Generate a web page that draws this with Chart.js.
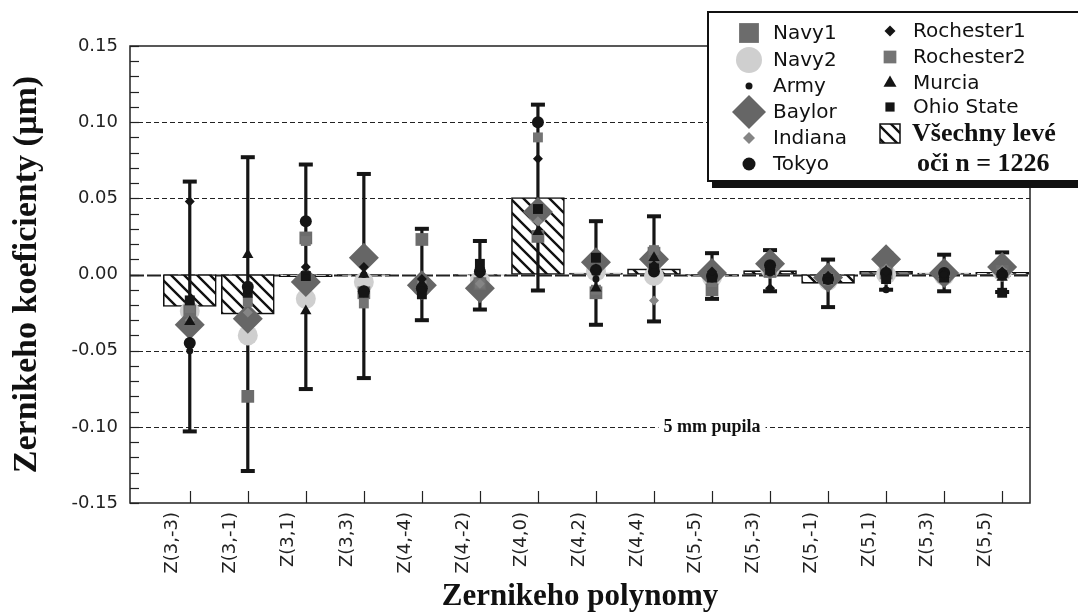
<!DOCTYPE html>
<html>
<head>
<meta charset="utf-8">
<script src="https://cdn.jsdelivr.net/npm/chart.js@4.4.1/dist/chart.umd.min.js"></script>
<style>
  html, body { margin: 0; padding: 0; background: #fff; }
  #wrap { width: 1078px; height: 612px; position: relative; }
</style>
</head>
<body>
<div id="wrap"><canvas id="chart" width="1078" height="612"></canvas></div>
<script>
const categories = ['Z(3,-3)','Z(3,-1)','Z(3,1)','Z(3,3)','Z(4,-4)','Z(4,-2)','Z(4,0)','Z(4,2)','Z(4,4)','Z(5,-5)','Z(5,-3)','Z(5,-1)','Z(5,1)','Z(5,3)','Z(5,5)'];

// all left eyes (n = 1226): mean and standard deviation
const allEyesMean = [-0.021, -0.026, -0.0015, -0.001, 0.000, -0.0005, 0.0505, 0.001, 0.0037, -0.001, 0.0025, -0.0058, 0.002, 0.001, 0.0015];
const allEyesSD   = [0.082, 0.103, 0.0737, 0.067, 0.030, 0.0225, 0.061, 0.034, 0.0345, 0.015, 0.0135, 0.0156, 0.012, 0.012, 0.013];

// individual studies
const navy1      = [-0.024, -0.080, 0.024, -0.012, 0.023, -0.006, 0.025, -0.012, 0.014, -0.010, 0.002, -0.003, 0.001, -0.001, 0.002];
const navy2      = [-0.024, -0.040, -0.016, -0.005, -0.008, -0.004, 0.040, 0.002, -0.001, -0.002, 0.004, -0.004, 0.000, -0.001, 0.002];
const army       = [-0.050, -0.010, -0.002, 0.000, -0.010, 0.000, 0.043, -0.003, 0.002, -0.003, 0.001, -0.004, -0.010, 0.000, 0.000];
const baylor     = [-0.033, -0.029, -0.005, 0.011, -0.007, -0.009, 0.041, 0.008, 0.010, 0.001, 0.007, -0.002, 0.010, 0.001, 0.005];
const indiana    = [-0.030, -0.025, 0.000, -0.010, -0.005, -0.006, 0.035, 0.000, -0.017, -0.002, 0.003, -0.004, 0.004, 0.000, 0.003];
const tokyo      = [-0.045, -0.008, 0.035, -0.011, -0.009, 0.002, 0.100, 0.003, 0.002, -0.001, 0.006, -0.003, 0.001, 0.001, 0.000];
const rochester1 = [0.048, -0.010, 0.005, 0.005, -0.003, 0.004, 0.076, 0.004, 0.006, 0.002, -0.009, -0.001, 0.002, 0.000, 0.002];
const rochester2 = [-0.022, -0.018, 0.022, -0.019, -0.008, -0.006, 0.090, -0.010, 0.016, -0.005, 0.002, -0.004, 0.002, 0.000, 0.001];
const murcia     = [-0.031, 0.013, -0.024, 0.000, -0.006, 0.002, 0.028, -0.009, 0.011, -0.001, 0.005, -0.002, 0.002, 0.000, -0.002];
const ohioState  = [-0.017, -0.012, -0.001, -0.012, -0.013, 0.007, 0.043, 0.011, 0.004, -0.002, 0.003, -0.003, -0.003, -0.002, -0.012];

const yTicks = [-0.15, -0.10, -0.05, 0.00, 0.05, 0.10, 0.15];
const refLines = [-0.10, -0.05, 0.00, 0.05, 0.10];
const minorStep = 0.01;

const GRAY = '#6c6c6c', LIGHT = '#cfcfcf', BLACK = '#151515';

// diagonal hatch used for the all-eyes bars
function hatch() {
  const s = 13, c = document.createElement('canvas');
  c.width = s; c.height = s;
  const g = c.getContext('2d');
  g.fillStyle = '#fff'; g.fillRect(0, 0, s, s);
  g.strokeStyle = '#111'; g.lineWidth = 2.4;
  g.beginPath();
  g.moveTo(-1, -1); g.lineTo(s + 1, s + 1);
  g.moveTo(s - 3, -3); g.lineTo(s + 3, 3);
  g.moveTo(-3, s - 3); g.lineTo(3, s + 3);
  g.stroke();
  return document.getElementById('chart').getContext('2d').createPattern(c, 'repeat');
}
const hatchFill = hatch();

const pts = arr => arr.map((v, i) => ({x: i, y: v}));

// [label, data, style, radius, color, legendRadius, draw order]
const studies = [
  ['Army',        army,       'circle',   3.5, BLACK, 3.5, 0],
  ['Rochester1',  rochester1, 'rectRot',  5,   BLACK, 5.5, 1],
  ['Murcia',      murcia,     'triangle', 6.5, BLACK, 7.5, 2],
  ['Ohio State',  ohioState,  'rect',     7,   BLACK, 6.5, 3],
  ['Tokyo',       tokyo,      'circle',   6,   BLACK, 6.5, 4],
  ['Indiana',     indiana,    'rectRot',  5,   '#858585', 6, 5],
  ['Rochester2',  rochester2, 'rect',     7,   '#747474', 9, 6],
  ['Navy1',       navy1,      'rect',     9,   GRAY, 14, 7],
  ['Baylor',      baylor,     'rectRot',  15,  '#666666', 17, 8],
  ['Navy2',       navy2,      'circle',   10,  LIGHT, 13, 9]
];

const datasets = studies.map(s => ({
  type: 'scatter', label: s[0], data: pts(s[1]),
  pointStyle: s[2], pointRadius: s[3], pointBackgroundColor: s[4],
  pointBorderWidth: 0, order: s[6]
}));
datasets.push({
  type: 'bar', label: 'Všechny levé oči n = 1226', data: pts(allEyesMean),
  backgroundColor: hatchFill, borderColor: '#111', borderWidth: 1.6,
  borderSkipped: false, barThickness: 53, order: 20
});

const frame = {
  id: 'frame',
  beforeDatasetsDraw(chart) {
    const {ctx, chartArea: a, scales: {x, y}} = chart;
    ctx.save();
    ctx.strokeStyle = '#222';
    refLines.forEach(v => {
      const py = Math.round(y.getPixelForValue(v)) + 0.5;
      ctx.lineWidth = v === 0 ? 1.8 : 1;
      ctx.setLineDash(v === 0 ? [14, 3] : [5, 3]);
      ctx.beginPath(); ctx.moveTo(a.left, py); ctx.lineTo(a.right, py); ctx.stroke();
    });
    ctx.setLineDash([]);
    ctx.lineWidth = 1.2;
    for (let v = -0.15; v <= 0.1501; v += minorStep) {
      const py = Math.round(y.getPixelForValue(v)) + 0.5;
      ctx.beginPath(); ctx.moveTo(a.left, py); ctx.lineTo(a.left + 9, py); ctx.stroke();
    }
    categories.forEach((c, i) => {
      const px = Math.round(x.getPixelForValue(i)) + 0.5;
      ctx.beginPath(); ctx.moveTo(px, a.bottom); ctx.lineTo(px, a.bottom - 12); ctx.stroke();
    });
    ctx.lineWidth = 1.5;
    ctx.strokeRect(a.left, a.top, a.right - a.left, a.bottom - a.top);
    ctx.restore();
  }
};

// mean ± SD whiskers, drawn right after the bars so the study markers sit on top
const errorBars = {
  id: 'errorBars',
  afterDatasetDraw(chart, args) {
    if (chart.data.datasets[args.index].type !== 'bar') return;
    const {ctx, scales: {x, y}} = chart;
    ctx.save();
    ctx.strokeStyle = BLACK; ctx.fillStyle = BLACK;
    allEyesMean.forEach((m, i) => {
      const px = x.getPixelForValue(i);
      const top = y.getPixelForValue(m + allEyesSD[i]);
      const bot = y.getPixelForValue(m - allEyesSD[i]);
      ctx.lineWidth = 3.2;
      ctx.beginPath(); ctx.moveTo(px, top); ctx.lineTo(px, bot); ctx.stroke();
      ctx.fillRect(px - 7, top - 2, 14, 4);
      ctx.fillRect(px - 7, bot - 2, 14, 4);
    });
    ctx.restore();
  }
};

const pupilNote = {
  id: 'pupilNote',
  afterDatasetsDraw(chart) {
    const {ctx, scales: {x, y}} = chart;
    const px = x.getPixelForValue(9), py = y.getPixelForValue(-0.10);
    ctx.save();
    ctx.font = 'bold 18px "Liberation Serif"';
    const w = ctx.measureText('5 mm pupila').width;
    ctx.fillStyle = '#fff';
    ctx.fillRect(px - w / 2 - 5, py - 9, w + 10, 18);
    ctx.fillStyle = '#111';
    ctx.textAlign = 'center'; ctx.textBaseline = 'middle';
    ctx.fillText('5 mm pupila', px, py + 1);
    ctx.restore();
  }
};

const legendBox = {
  id: 'legendBox',
  afterDraw(chart) {
    const ctx = chart.ctx;
    const byName = Object.fromEntries(studies.map(s => [s[0], s]));
    ctx.save();
    ctx.fillStyle = '#111';
    ctx.fillRect(712, 17, 400, 171);
    ctx.fillStyle = '#fff';
    ctx.fillRect(708, 12, 400, 169);
    ctx.strokeStyle = '#111'; ctx.lineWidth = 2;
    ctx.strokeRect(708, 12, 400, 169);

    const col1 = ['Navy1', 'Navy2', 'Army', 'Baylor', 'Indiana', 'Tokyo'];
    const rows1 = [33, 60, 86, 112, 138, 164];
    const col2 = ['Rochester1', 'Rochester2', 'Murcia', 'Ohio State'];
    const rows2 = [31, 57, 83, 107];
    const mark = (name, mx, my) => {
      const s = byName[name];
      ctx.fillStyle = s[4];
      Chart.helpers.drawPoint(ctx, {pointStyle: s[2], radius: s[5], rotation: 0, borderWidth: 0}, mx, my);
    };
    ctx.font = '20px "DejaVu Sans"';
    ctx.textBaseline = 'middle';
    col1.forEach((n, k) => {
      mark(n, 749, rows1[k]);
      ctx.fillStyle = '#111'; ctx.fillText(n, 773, rows1[k] + 1);
    });
    col2.forEach((n, k) => {
      mark(n, 890, rows2[k]);
      ctx.fillStyle = '#111'; ctx.fillText(n, 913, rows2[k] + 1);
    });
    ctx.fillStyle = hatchFill;
    ctx.fillRect(880, 124, 20, 19);
    ctx.lineWidth = 1.5; ctx.strokeRect(880, 124, 20, 19);
    ctx.fillStyle = '#111';
    ctx.font = 'bold 26px "Liberation Serif"';
    ctx.fillText('Všechny levé', 912, 134);
    ctx.fillText('oči n = 1226', 917, 164);
    ctx.restore();
  }
};

Chart.defaults.font.family = '"DejaVu Sans"';
Chart.defaults.color = '#222';

new Chart(document.getElementById('chart'), {
  type: 'scatter',
  data: { datasets },
  options: {
    responsive: false,
    animation: false,
    layout: { padding: { top: 46, right: 48, left: 0, bottom: 0 } },
    plugins: { legend: { display: false }, tooltip: { enabled: false } },
    scales: {
      x: {
        type: 'linear', min: -1.03, max: 14.48, offset: false,
        afterBuildTicks: s => { s.ticks = categories.map((c, i) => ({ value: i })); },
        afterFit: s => { s.height = 109; },
        grid: { display: false, drawTicks: false },
        border: { display: false },
        ticks: {
          autoSkip: false, minRotation: 90, maxRotation: 90,
          labelOffset: -17, padding: 9,
          font: { size: 18 }, color: '#222',
          callback: (v, i) => categories[i]
        },
        title: {
          display: true, text: 'Zernikeho polynomy', color: '#111',
          font: { family: '"Liberation Serif"', weight: 'bold', size: 31, lineHeight: 1 },
          padding: { top: 0, bottom: 0 }
        }
      },
      y: {
        min: -0.15, max: 0.15,
        afterBuildTicks: s => { s.ticks = yTicks.map(v => ({ value: v })); },
        afterFit: s => { s.width = 130; },
        grid: { display: false, drawTicks: false },
        border: { display: false },
        ticks: { padding: 12, font: { size: 18 }, color: '#222', callback: v => v.toFixed(2) },
        title: {
          display: true, text: 'Zernikeho koeficienty (µm)', color: '#111',
          font: { family: '"Liberation Serif"', weight: 'bold', size: 34, lineHeight: 1 },
          padding: { top: 10, bottom: 0 }
        }
      }
    }
  },
  plugins: [frame, errorBars, pupilNote, legendBox]
});
</script>
</body>
</html>
